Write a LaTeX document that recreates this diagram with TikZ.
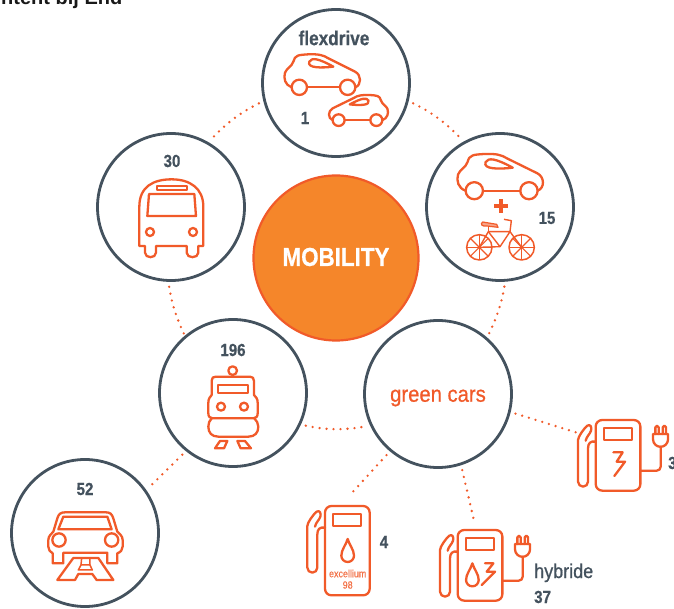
\documentclass[tikz,border=0pt]{standalone}
\usepackage{fontspec}
\setmainfont{Liberation Sans}
\newfontfamily\cnb[FakeStretch=.86,FakeBold=0.6]{Liberation Sans Bold}
\newfontfamily\cnm[FakeStretch=.9,FakeBold=0.7]{Liberation Sans}
\newfontfamily\cnr[FakeStretch=.85,FakeBold=0.3]{Liberation Sans}
\definecolor{slateC}{HTML}{44525E}
\definecolor{orangeC}{HTML}{F15A29}
\definecolor{fillC}{HTML}{F5862A}
\tikzset{
  ring/.style={circle,draw=slateC,line width=2.8pt,minimum size=147pt,inner sep=0pt,fill=white},
  dotline/.style={orangeC,line width=2.6pt,line cap=round,dash pattern=on 0pt off 7pt,shorten <=5pt,shorten >=2pt},
  icon/.style={draw=orangeC,line width=2.3pt,line join=round,line cap=round},
  thin icon/.style={draw=orangeC,line width=1.1pt,line join=round},
  num/.style={text=slateC,font=\cnb\fontsize{17.5}{20}\selectfont,inner sep=0pt}
}
\newcommand{\carshape}{%
    \draw[icon] (125,262) .. controls (105,255) and (100,235) .. (105,218)
      .. controls (110,205) and (125,200) .. (130,185)
      .. controls (135,165) and (145,165) .. (175,163)
      .. controls (205,162) and (220,165) .. (235,175)
      -- (315,215) .. controls (335,225) and (335,255) .. (316,262);
    \draw[icon] (171,262) -- (270,262);
    \draw[icon] (148,262) circle (23);
    \draw[icon] (293,262) circle (23);
    \draw[icon] (178,185) .. controls (185,172) and (205,175) .. (250,200)
      .. controls (215,204) and (170,205) .. (178,185) -- cycle;
}
\newcommand{\pumpshape}[1]{%
    \draw[icon,rounded corners=6.5pt] (0,0) rectangle (134,#1);
    \draw[icon] (24,25) rectangle (109,60);
    \draw[icon] (0,65) .. controls (-16,62) and (-23,70) .. (-23,85) -- (-23,185)
      arc (0:180:15) -- (-53,60) .. controls (-53,50) and (-35,25) .. (-25,17)
      .. controls (-16,11) and (-11,22) .. (-14,32) .. controls (-17,42) and (-28,50) .. (-30,62);
}
\newcommand{\dropshape}[2]{%
    \draw[icon] (#1,#2) .. controls (#1-5,#2+18) and (#1-19,#2+32) .. (#1-19,#2+50)
      arc (180:0:19) .. controls (#1+19,#2+32) and (#1+5,#2+18) .. (#1,#2) -- cycle;
}
\newcommand{\plugshape}{%
    \draw[icon,rounded corners=4pt] (134,152) -- (195,152) -- (195,80);
    \draw[icon] (172,42) -- (217,42) -- (217,58) arc (0:180:22.5) -- cycle;
    \draw[icon] (179,42) -- (179,22) arc (180:360:5) -- (189,42);
    \draw[icon] (201,42) -- (201,22) arc (180:360:5) -- (211,42);
}
\begin{document}
\begin{tikzpicture}[x=1pt,y=-1pt]
\clip (0,0) rectangle (674,609);
\fill[white] (0,0) rectangle (674,609);
\node[anchor=base west,inner sep=0pt,font=\bfseries\fontsize{20}{22}\selectfont,text=black!90] (heading) at (1,5) {ntent bij End};

% rings
\node[ring] (top) at (336,83) {};
\node[ring] (ltop) at (171,207) {};
\node[ring] (rtop) at (500,207) {};
\node[ring] (lbot) at (233,393) {};
\node[ring] (green) at (438,394) {};
\node[ring] (far) at (85,533) {};
\node[circle,draw=orangeC,line width=2.2pt,fill=fillC,minimum size=165pt,inner sep=0pt] (mob) at (336,258) {};
\node[text=white,font=\cnb\fontsize{26}{30}\selectfont,inner sep=0pt] (mobtext) at (336,257) {MOBILITY};
\node[text=orangeC,font=\cnm\fontsize{22.5}{26}\selectfont,inner sep=0pt] (greentext) at (438,398) {green cars};

% connector ends
\coordinate (p4) at (350,495);
\coordinate (hy) at (475,525);
\coordinate (p3) at (578,433);

% connectors
\draw[dotline] (top.194) to[bend right=10] (ltop.60);
\draw[dotline] (top.-14) to[bend left=10] (rtop.119);
\draw[dotline] (ltop.268) to[bend right=8] (lbot.130);
\draw[dotline] (rtop.274) to[bend left=8] (green.49);
\draw[dotline] (lbot.-25) to[bend right=11] (green.205);
\draw[dotline] (green.230) -- (p4);
\draw[dotline] (green.288) -- (hy);
\draw[dotline] (green.-14) -- (p3);
\draw[dotline] (lbot.231) -- (far.35);

% labels
\node[text=slateC,font=\cnb\fontsize{20}{22}\selectfont,inner sep=0pt] (lflex) at (334,38) {flexdrive};
\node[num] (l1) at (305,118) {1};
\node[num] (l15) at (547,218) {15};
\node[num] (l30) at (172,161) {30};
\node[num] (l196) at (233,350) {196};
\node[num] (l52) at (85,489) {52};
\node[num] (l4) at (384,542) {4};
\node[num,anchor=west] (l3) at (668,463) {3};
\node[text=slateC,font=\cnm\fontsize{20}{22}\selectfont,inner sep=0pt,anchor=base west] (lhy) at (534,578) {hybride};
\node[num,anchor=base west] (l37) at (534,603) {37};

% cars top
\begin{scope}[shift={(250,0)},scale=0.3333]
  \carshape
\end{scope}
\begin{scope}[shift={(414.8,53.6)},xscale=-0.26,yscale=0.254]
  \carshape
\end{scope}
% right car
\begin{scope}[shift={(418.5,93.5)},xscale=0.377,yscale=0.371]
  \carshape
\end{scope}
% plus
\fill[orangeC] (494,204) rectangle (507.5,208);
\fill[orangeC] (498.7,199) rectangle (502.7,213);

% bike
\begin{scope}[shift={(420,130)},scale=0.3333]
  \foreach \c in {(178,352),(305,352)}{
    \draw[thin icon,line width=1.5pt] \c circle (38);
    \foreach \a in {0,45,...,135}{
      \draw[thin icon] \c ++(\a:38) -- ++(\a+180:76);
    }
  }
  \draw[thin icon,line width=1.4pt] (178,352) -- (240,350) -- (270,305) -- (205,305) -- cycle;
  \draw[thin icon,line width=1.4pt] (205,305) -- (240,350);
  \draw[thin icon,line width=1.4pt] (205,305) -- (205,288);
  \draw[thin icon,line width=1.4pt] (270,305) -- (305,352);
  \draw[thin icon,line width=1.4pt] (270,305) -- (274,272) -- (252,268);
  \draw[thin icon,fill=orangeC!55,line width=1.2pt] (188,276) .. controls (180,282) and (185,290) .. (200,288) -- (234,292) -- (230,283) -- cycle;
\end{scope}

% bus
\begin{scope}[shift={(100,150)},scale=0.3333]
  \draw[icon] (118,288) -- (118,170) .. controls (118,110) and (160,88) .. (215,88)
     .. controls (270,88) and (310,115) .. (310,170) -- (310,288) -- (295,288) -- (295,308)
     .. controls (295,326) and (260,326) .. (260,308) -- (260,288) -- (168,288) -- (168,308)
     .. controls (168,326) and (135,326) .. (135,308) -- (135,288) -- cycle;
  \draw[icon] (147,132) -- (283,132) -- (288,198) -- (142,198) -- cycle;
  \draw[icon] (170,107) rectangle (260,120);
  \draw[icon] (150,246) circle (12);
  \draw[icon] (279,246) circle (12);
\end{scope}

% train
\begin{scope}[shift={(170,330)},scale=0.3333]
  \draw[icon] (188,122) circle (13);
  \draw[icon] (125,195) -- (125,152) .. controls (125,143) and (130,140) .. (138,140) -- (240,140)
    .. controls (248,140) and (252,145) .. (252,153) -- (252,195) .. controls (258,200) and (263,207) .. (263,218)
    -- (263,250) .. controls (263,260) and (258,265) .. (250,265) -- (128,265)
    .. controls (120,265) and (115,260) .. (115,250) -- (115,218) .. controls (115,207) and (120,200) .. (125,195) -- cycle;
  \draw[icon] (125,265) .. controls (118,272) and (115,280) .. (115,290) .. controls (115,308) and (125,320) .. (145,320)
    -- (235,320) .. controls (255,320) and (265,308) .. (265,290) .. controls (265,280) and (260,272) .. (253,265);
  \draw[icon] (143,165) rectangle (235,190);
  \draw[icon] (153,230) circle (12);
  \draw[icon] (222,230) circle (12);
  \draw[icon] (150,333) -- (172,333) -- (162,355) -- (135,355) -- cycle;
  \draw[icon] (202,333) -- (225,333) -- (243,355) -- (212,355) -- cycle;
\end{scope}

% front car and road
\begin{scope}[shift={(0,470)},scale=0.3333]
  \draw[icon] (158,250) .. controls (150,245) and (145,240) .. (145,230) -- (145,210) .. controls (145,197) and (155,192) .. (160,185)
    -- (172,145) .. controls (176,132) and (182,127) .. (195,127) -- (318,127) .. controls (330,127) and (336,132) .. (340,145)
    -- (352,185) .. controls (358,192) and (368,197) .. (368,210) -- (368,230) .. controls (368,240) and (362,246) .. (352,250)
    -- (352,280) -- (322,280) -- (322,248) -- (190,248) -- (190,280) -- (158,280) -- cycle;
  \draw[icon] (190,140) -- (322,140) -- (335,178) -- (175,178) -- cycle;
  \draw[icon] (177,210) circle (20);
  \draw[icon] (335,210) circle (20);
  \draw[icon] (172,330) -- (220,264) -- (295,264) -- (340,330) -- (290,330) -- (277,312) -- (235,312) -- (225,330) -- cycle;
  \draw[icon,line width=1.5pt] (235,300) -- (243,285) -- (270,285) -- (277,300) -- cycle;
  \draw[icon,line width=1.5pt] (245,264) -- (243,285) (270,264) -- (270,285);
\end{scope}

% pump excellium
\begin{scope}[shift={(325,506)},scale=0.3333]
  \pumpshape{268}
  \dropshape{68}{99}
\end{scope}
\node[text=orangeC!85,font=\cnr\fontsize{10.5}{12}\selectfont,inner sep=0pt] (lexc) at (347.7,573.5) {excellium};
\node[text=orangeC!85,font=\cnr\fontsize{10.5}{12}\selectfont,inner sep=0pt] (l98) at (347.7,585) {98};

% pump hybrid
\begin{scope}[shift={(457.7,530)},scale=0.3333]
  \pumpshape{212}
  \plugshape
  \dropshape{44}{100}
  \draw[icon] (82,100) -- (107,100) -- (87,125) -- (112,125) -- (72,165);
\end{scope}

% pump electric
\begin{scope}[shift={(595.7,420)},scale=0.3333]
  \pumpshape{212}
  \plugshape
  \draw[icon] (53,97) -- (81,97) -- (63,125) -- (88,125) -- (56,168);
\end{scope}
\end{tikzpicture}
\end{document}
